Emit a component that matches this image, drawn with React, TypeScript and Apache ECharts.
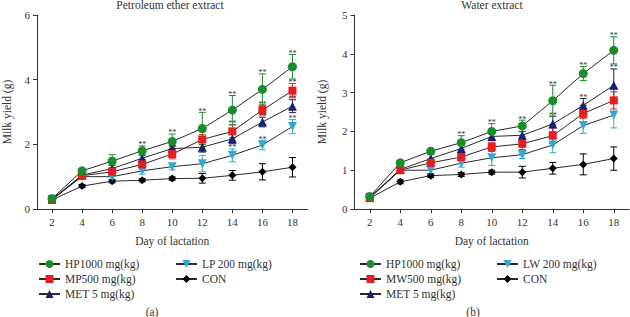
import React, { useEffect, useRef } from "react";
import * as echarts from "echarts";

const days = [2, 4, 6, 8, 10, 12, 14, 16, 18];

// Panel (a): Petroleum ether extract
const aHP = [0.32, 1.18, 1.48, 1.8, 2.09, 2.49, 3.06, 3.7, 4.4];
const aMP = [0.28, 1.03, 1.15, 1.38, 1.7, 2.15, 2.4, 3.06, 3.66];
const aMET = [0.3, 1.05, 1.25, 1.57, 1.87, 1.91, 2.17, 2.69, 3.18];
const aLP = [0.3, 1.0, 1.0, 1.18, 1.31, 1.4, 1.66, 1.98, 2.55];
const aCON = [0.28, 0.71, 0.86, 0.89, 0.94, 0.95, 1.04, 1.15, 1.29];
const aHPerr = [0.03, 0.05, 0.2, 0.15, 0.23, 0.5, 0.45, 0.48, 0.38];
const aMPerr = [0.03, 0.05, 0.1, 0.15, 0.15, 0.15, 0.2, 0.15, 0.22];
const aMETerr = [0.03, 0.05, 0.1, 0.1, 0.1, 0.15, 0.15, 0.15, 0.2];
const aLPerr = [0.03, 0.05, 0.08, 0.1, 0.1, 0.25, 0.2, 0.15, 0.22];
const aCONerr = [0.03, 0.05, 0.05, 0.05, 0.05, 0.15, 0.15, 0.25, 0.3];
const aHPsig = [0, 0, 0, 1, 1, 1, 1, 1, 1];
const aMPsig = [0, 0, 0, 0, 1, 1, 1, 1, 1];
const aMETsig = [0, 0, 0, 0, 0, 1, 1, 1, 1];
const aLPsig = [0, 0, 0, 0, 0, 0, 1, 1, 1];
const aCONsig = [0, 0, 0, 0, 0, 0, 0, 0, 0];

// Panel (b): Water extract
const bHP = [0.32, 1.19, 1.49, 1.71, 2.0, 2.14, 2.79, 3.49, 4.09];
const bMW = [0.28, 1.0, 1.19, 1.34, 1.6, 1.68, 1.89, 2.46, 2.8];
const bMET = [0.3, 1.02, 1.3, 1.56, 1.87, 1.9, 2.19, 2.67, 3.19];
const bLW = [0.3, 1.0, 1.0, 1.18, 1.32, 1.4, 1.65, 2.15, 2.42];
const bCON = [0.28, 0.7, 0.86, 0.89, 0.95, 0.95, 1.05, 1.15, 1.3];
const bHPerr = [0.03, 0.05, 0.05, 0.18, 0.2, 0.15, 0.4, 0.18, 0.35];
const bMWerr = [0.03, 0.05, 0.1, 0.1, 0.12, 0.15, 0.2, 0.12, 0.22];
const bMETerr = [0.03, 0.05, 0.1, 0.1, 0.1, 0.1, 0.2, 0.18, 0.42];
const bLWerr = [0.03, 0.05, 0.1, 0.1, 0.2, 0.1, 0.2, 0.2, 0.33];
const bCONerr = [0.03, 0.05, 0.05, 0.05, 0.05, 0.15, 0.15, 0.27, 0.3];
const bHPsig = [0, 0, 0, 1, 1, 1, 1, 1, 1];
const bMWsig = [0, 0, 0, 0, 0, 0, 1, 1, 1];
const bMETsig = [0, 0, 0, 0, 0, 0, 1, 1, 1];
const bLWsig = [0, 0, 0, 0, 0, 0, 0, 1, 1];
const bCONsig = [0, 0, 0, 0, 0, 0, 0, 0, 0];

const xTicks = [2, 4, 6, 8, 10, 12, 14, 16, 18];

const FONT = "Liberation Serif";
const GREEN = "#1b8c2c";
const RED = "#e41e1e";
const NAVY = "#16206f";
const CYAN = "#35a8cf";
const BLACK = "#000000";

type Grp = {
  name: string;
  vals: number[];
  err: number[];
  sig: number[];
  color: string;
  symbol: string;
  rotate?: number;
  size: number;
};

function buildPanel(idx: number, groups: Grp[]) {
  const out: any[] = [];
  groups.forEach((g) => {
    out.push({
      type: "custom",
      name: g.name + "_err",
      xAxisIndex: idx,
      yAxisIndex: idx,
      z: 2,
      silent: true,
      encode: { x: 0, y: [1, 2] },
      data: days.map((d, i) => [d, g.vals[i] - g.err[i], g.vals[i] + g.err[i], g.sig[i]]),
      renderItem: (params: any, api: any) => {
        const x = api.value(0);
        const lo = api.value(1);
        const hi = api.value(2);
        const s = api.value(3);
        const pt = api.coord([x, hi]);
        const pb = api.coord([x, lo]);
        const hw = 3.5;
        const st = { stroke: g.color, lineWidth: 1 };
        const children: any[] = [
          { type: "line", shape: { x1: pt[0], y1: pt[1], x2: pb[0], y2: pb[1] }, style: st },
          { type: "line", shape: { x1: pt[0] - hw, y1: pt[1], x2: pt[0] + hw, y2: pt[1] }, style: st },
          { type: "line", shape: { x1: pb[0] - hw, y1: pb[1], x2: pb[0] + hw, y2: pb[1] }, style: st },
        ];
        if (s) {
          children.push({
            type: "text",
            x: pt[0],
            y: pt[1] + 3,
            style: {
              text: "**",
              fill: "#333",
              font: `8px "${FONT}"`,
              align: "center",
              verticalAlign: "bottom",
            },
          });
        }
        return { type: "group", children };
      },
    });
  });
  groups.forEach((g, k) => {
    out.push({
      type: "line",
      name: g.name,
      xAxisIndex: idx,
      yAxisIndex: idx,
      z: 3 + k,
      data: days.map((d, i) => [d, g.vals[i]]),
      symbol: g.symbol,
      symbolSize: g.size,
      symbolRotate: g.rotate || 0,
      showSymbol: true,
      lineStyle: { color: "#2a2a2a", width: 1 },
      itemStyle: { color: g.color, borderWidth: 0 },
    });
  });
  return out;
}

export default function App() {
  const ref = useRef<HTMLDivElement>(null);
  useEffect(() => {
    if (!ref.current) return;
    const chart = echarts.init(ref.current, undefined, { renderer: "svg" });

    const leftGroups: Grp[] = [
      { name: "CON", vals: aCON, err: aCONerr, sig: aCONsig, color: BLACK, symbol: "diamond", size: 8 },
      { name: "LP 200 mg(kg)", vals: aLP, err: aLPerr, sig: aLPsig, color: CYAN, symbol: "triangle", rotate: 180, size: 9 },
      { name: "MET 5 mg(kg)", vals: aMET, err: aMETerr, sig: aMETsig, color: NAVY, symbol: "triangle", size: 9 },
      { name: "MP500 mg(kg)", vals: aMP, err: aMPerr, sig: aMPsig, color: RED, symbol: "rect", size: 8 },
      { name: "HP1000 mg(kg)", vals: aHP, err: aHPerr, sig: aHPsig, color: GREEN, symbol: "circle", size: 9 },
    ];
    const rightGroups: Grp[] = [
      { name: "CON", vals: bCON, err: bCONerr, sig: bCONsig, color: BLACK, symbol: "diamond", size: 8 },
      { name: "LW 200 mg(kg)", vals: bLW, err: bLWerr, sig: bLWsig, color: CYAN, symbol: "triangle", rotate: 180, size: 9 },
      { name: "MET 5 mg(kg)", vals: bMET, err: bMETerr, sig: bMETsig, color: NAVY, symbol: "triangle", size: 9 },
      { name: "MW500 mg(kg)", vals: bMW, err: bMWerr, sig: bMWsig, color: RED, symbol: "rect", size: 8 },
      { name: "HP1000 mg(kg)", vals: bHP, err: bHPerr, sig: bHPsig, color: GREEN, symbol: "circle", size: 9 },
    ];

    const axisLine = { lineStyle: { color: "#333", width: 1 } };
    const labelStyle = { fontFamily: FONT, fontSize: 11, color: "#333" };

    const xAxisBase = (gridIndex: number) => ({
      type: "value",
      gridIndex,
      min: 1,
      max: 19,
      name: "Day of lactation",
      nameLocation: "middle",
      nameGap: 26,
      nameTextStyle: { fontFamily: FONT, fontSize: 11.5, color: "#333" },
      axisLine,
      splitLine: { show: false },
      axisTick: { show: true, inside: false, length: 4, lineStyle: { color: "#333" }, customValues: xTicks },
      axisLabel: { ...labelStyle, margin: 7, customValues: xTicks },
    });

    const yAxisBase = (gridIndex: number, max: number, interval: number, gap: number) => ({
      type: "value",
      gridIndex,
      min: 0,
      max,
      interval,
      name: "Milk yield (g)",
      nameLocation: "middle",
      nameGap: gap,
      nameRotate: 90,
      nameTextStyle: { fontFamily: FONT, fontSize: 11.5, color: "#333" },
      axisLine: { show: true, ...axisLine },
      splitLine: { show: false },
      axisTick: { show: true, inside: false, length: 4, lineStyle: { color: "#333" } },
      axisLabel: { ...labelStyle, margin: 7 },
    });

    const legendBase = {
      orient: "vertical",
      itemWidth: 21,
      itemHeight: 10,
      itemGap: 3,
      itemStyle: {},
      textStyle: { fontFamily: FONT, fontSize: 11.5, color: "#333", lineHeight: 11 },
      selectedMode: false,
    };

    chart.setOption({
      animation: false,
      backgroundColor: "#ffffff",
      grid: [
        { left: 33, top: 15, width: 274.5, height: 194, containLabel: false },
        { left: 354.5, top: 15, width: 274.5, height: 194, containLabel: false },
      ],
      xAxis: [xAxisBase(0), xAxisBase(1)],
      yAxis: [yAxisBase(0, 6, 2, 24), yAxisBase(1, 5, 1, 27)],
      legend: [
        { ...legendBase, left: 33, top: 253, data: ["HP1000 mg(kg)", "MP500 mg(kg)", "MET 5 mg(kg)"] },
        { ...legendBase, left: 170, top: 253, data: ["LP 200 mg(kg)", "CON"] },
        { ...legendBase, left: 354, top: 253, data: ["HP1000 mg(kg)", "MW500 mg(kg)", "MET 5 mg(kg)"] },
        { ...legendBase, left: 491, top: 253, data: ["LW 200 mg(kg)", "CON"] },
      ],
      graphic: [
        {
          type: "text",
          x: 170,
          y: 5,
          style: { text: "Petroleum ether extract", font: `11.5px "${FONT}"`, fill: "#333", align: "center", verticalAlign: "middle" },
        },
        {
          type: "text",
          x: 492,
          y: 5,
          style: { text: "Water extract", font: `11.5px "${FONT}"`, fill: "#333", align: "center", verticalAlign: "middle" },
        },
        {
          type: "text",
          x: 152,
          y: 312,
          style: { text: "(a)", font: `11.5px "${FONT}"`, fill: "#333", align: "center", verticalAlign: "middle" },
        },
        {
          type: "text",
          x: 473,
          y: 312,
          style: { text: "(b)", font: `11.5px "${FONT}"`, fill: "#333", align: "center", verticalAlign: "middle" },
        },
      ],
      series: [...buildPanel(0, leftGroups), ...buildPanel(1, rightGroups)],
    });

    return () => chart.dispose();
  }, []);

  return <div ref={ref} style={{ width: 630, height: 317, position: "absolute", left: 0, top: 0 }} />;
}
